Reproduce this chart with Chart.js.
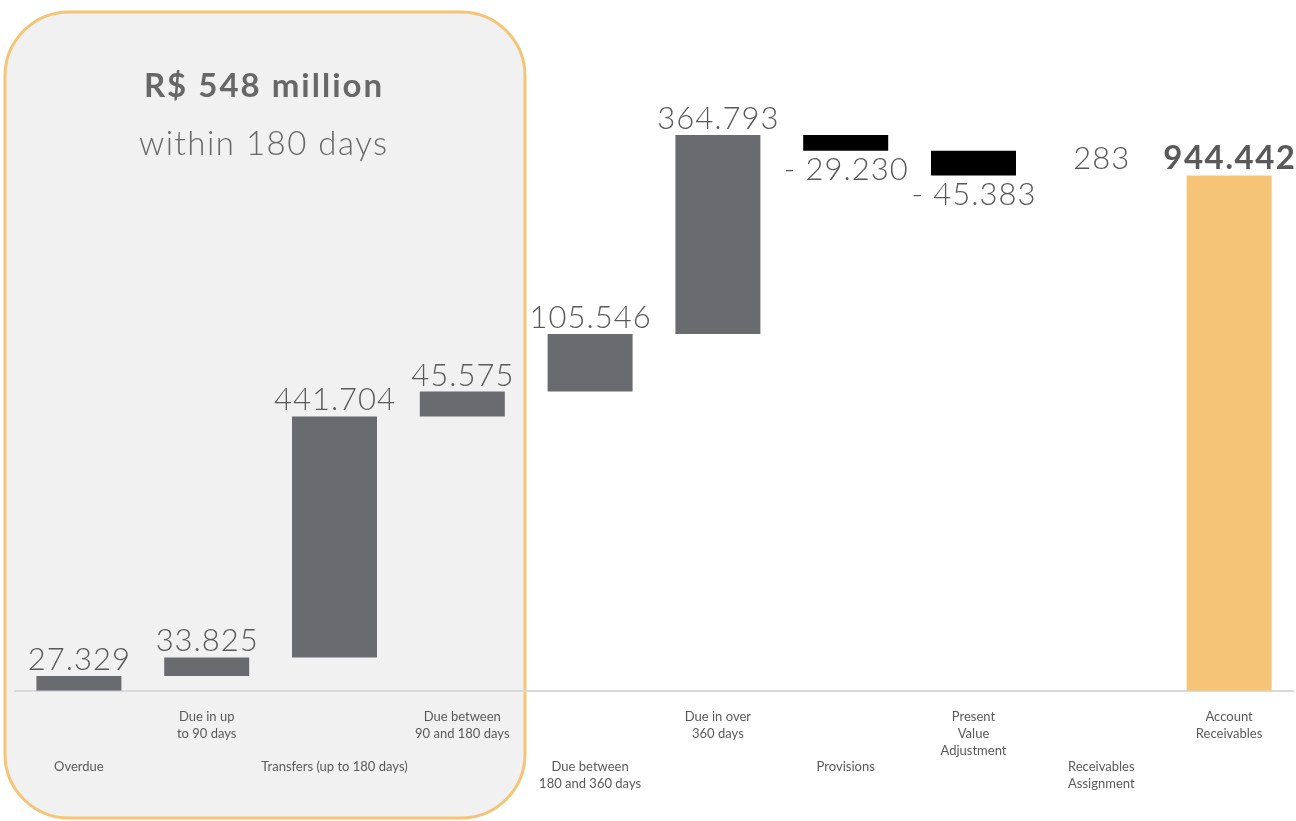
<!DOCTYPE html>
<html>
<head>
<meta charset="utf-8">
<script src="https://cdn.jsdelivr.net/npm/chart.js@4.4.1/dist/chart.umd.min.js"></script>
<style>
  html, body { margin: 0; padding: 0; background: #ffffff; }
  #wrap { width: 1296px; height: 821px; position: relative; }
</style>
</head>
<body>
<div id="wrap"><canvas id="chart"></canvas></div>
<script>
// Receivables breakdown (R$ thousand)
const categories = [
  ['Overdue'],
  ['Due in up', 'to 90 days'],
  ['Transfers (up to 180 days)'],
  ['Due between', '90 and 180 days'],
  ['Due between', '180 and 360 days'],
  ['Due in over', '360 days'],
  ['Provisions'],
  ['Present', 'Value', 'Adjustment'],
  ['Receivables', 'Assignment'],
  ['Account', 'Receivables']
];
const changes = [27329, 33825, 441704, 45575, 105546, 364793, -29230, -45383, 283];
const total = 944442;
// the first four steps make up the short-term block
const shortTermCount = 4;

// floating segments for the waterfall
const segments = [];
let running = 0;
changes.forEach(v => { segments.push([running, running + v]); running += v; });
segments.push([0, total]);

const barColors = changes.map(v => v < 0 ? '#000000' : '#6a6b6f').concat(['#f5c477']);

// alternate the category labels between an upper and a lower row
const tickLabels = categories.map((lines, i) => i % 2 === 0 ? ['', '', ''].concat(lines) : lines);

const fmt = v => Math.abs(v).toLocaleString('pt-BR');
const valueText = (i) => i === changes.length ? fmt(total)
  : (changes[i] < 0 ? '- ' + fmt(changes[i]) : fmt(changes[i]));

const shortTermSum = changes.slice(0, shortTermCount).reduce((a, b) => a + b, 0);

// centred text with extra tracking
function spacedText(ctx, text, x, y, spacing) {
  ctx.letterSpacing = spacing + 'px';
  ctx.fillText(text, x + spacing / 2, y);
  ctx.letterSpacing = '0px';
}

const highlightBox = {
  id: 'highlightBox',
  beforeDraw(chart) {
    const ctx = chart.ctx;
    const x = 5, y = 12, w = 520, h = 806, r = 64;
    ctx.save();
    ctx.beginPath();
    ctx.roundRect(x, y, w, h, r);
    ctx.fillStyle = '#f1f1f1';
    ctx.fill();
    ctx.lineWidth = 3;
    ctx.strokeStyle = '#f5c477';
    ctx.stroke();
    ctx.fillStyle = '#676767';
    ctx.textAlign = 'center';
    ctx.textBaseline = 'alphabetic';
    ctx.font = 'bold 33px Lato, sans-serif';
    spacedText(ctx, 'R$ ' + Math.round(shortTermSum / 1000) + ' million', 263, 97, 2);
    ctx.font = '300 33px Lato, sans-serif';
    spacedText(ctx, 'within 180 days', 263, 155, 1.5);
    ctx.restore();
  }
};

const valueLabels = {
  id: 'valueLabels',
  afterDatasetsDraw(chart) {
    const ctx = chart.ctx;
    const meta = chart.getDatasetMeta(0);
    ctx.save();
    ctx.textAlign = 'center';
    ctx.textBaseline = 'alphabetic';
    ctx.fillStyle = '#595959';
    meta.data.forEach((bar, i) => {
      const isTotal = i === changes.length;
      ctx.font = isTotal ? 'bold 33px Lato, sans-serif' : '300 31px Lato, sans-serif';
      const spacing = isTotal ? 1.5 : 1;
      const top = Math.min(bar.y, bar.base);
      const bottom = Math.max(bar.y, bar.base);
      if (!isTotal && changes[i] < 0) {
        spacedText(ctx, valueText(i), bar.x, bottom + 29, spacing);
      } else {
        spacedText(ctx, valueText(i), bar.x, top - 6, spacing);
      }
    });
    ctx.restore();
  }
};

new Chart(document.getElementById('chart'), {
  type: 'bar',
  data: {
    labels: tickLabels,
    datasets: [{
      data: segments,
      backgroundColor: barColors,
      borderWidth: 0,
      barPercentage: 1,
      categoryPercentage: 0.665
    }]
  },
  options: {
    responsive: true,
    maintainAspectRatio: false,
    animation: false,
    layout: { padding: { left: 15, right: 3, top: 36, bottom: 19 } },
    plugins: { legend: { display: false }, tooltip: { enabled: false } },
    scales: {
      x: {
        grid: { display: false },
        border: { display: true, color: '#d9d9d9', width: 2 },
        ticks: {
          color: '#595959',
          font: { family: 'Lato, sans-serif', size: 13, lineHeight: 1.28 },
          padding: 10,
          maxRotation: 0,
          autoSkip: false
        }
      },
      y: { display: false, min: 0, max: 1200000 }
    }
  },
  plugins: [highlightBox, valueLabels]
});
</script>
</body>
</html>
